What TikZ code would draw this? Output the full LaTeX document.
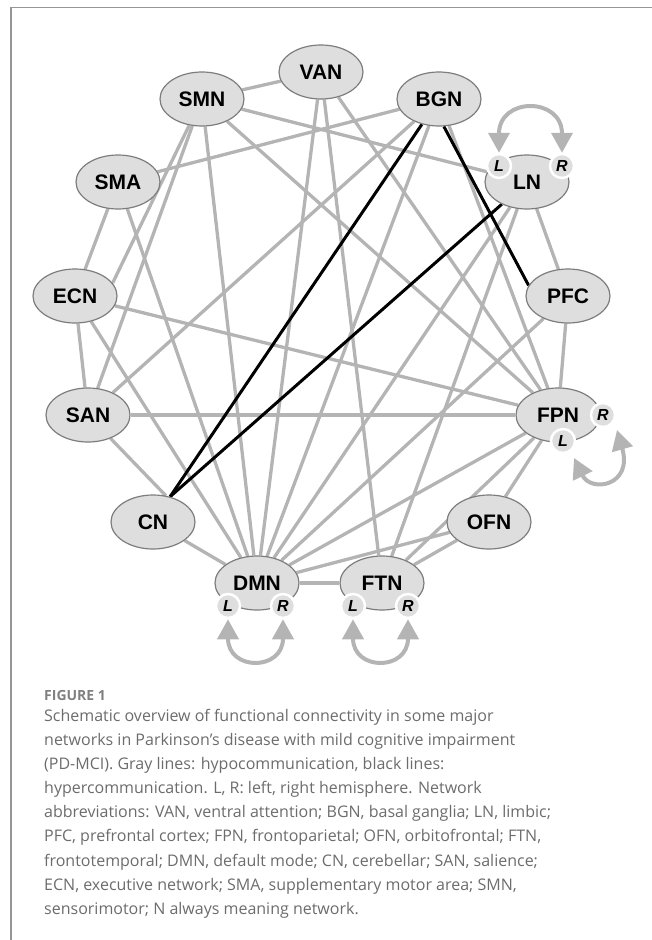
\documentclass[tikz,border=0pt]{standalone}
\usepackage{fontspec}
\setmainfont{Liberation Sans}
\newfontfamily\capfont{Open Sans}
\usetikzlibrary{shapes.geometric,arrows.meta}
\pgfdeclarelayer{bg}
\pgfsetlayers{bg,main}
\definecolor{edgegray}{RGB}{180,180,180}
\definecolor{nodefill}{RGB}{222,222,222}
\definecolor{nodeline}{RGB}{125,125,125}
\definecolor{capgray}{RGB}{108,108,108}
\definecolor{figgray}{RGB}{128,128,128}
\definecolor{framegray}{RGB}{150,150,150}
\tikzset{
  net/.style={ellipse, draw=nodeline, line width=1.2pt, fill=nodefill,
    minimum width=84pt, minimum height=54pt, inner sep=0pt,
    font=\fontsize{21}{21}\selectfont\bfseries},
  hemi/.style={circle, fill=nodefill, draw=white, line width=2.5pt,
    minimum size=24pt, inner sep=0pt,
    font=\fontsize{16}{16}\selectfont\bfseries\itshape},
  hypo/.style={draw=edgegray, line width=3.3pt},
  hyper/.style={draw=black, line width=3pt},
  loopar/.style={draw=edgegray, line width=4pt,
    {Triangle[width=21pt,length=20pt]}-{Triangle[width=21pt,length=20pt]}},
  capline/.style={anchor=base west, inner sep=0pt, text=capgray,
    font=\capfont\fontsize{16}{16}\selectfont},
}
\begin{document}
\begin{tikzpicture}[x=1pt,y=-1pt]
\useasboundingbox (0,0) rectangle (652,940);
% frame
\draw[framegray, line width=1.5pt] (652,7.5) -- (11,7.5) -- (11,940);

% network nodes
\node[net] (VAN) at (321,72) {VAN};
\node[net] (SMN) at (202,99) {SMN};
\node[net] (BGN) at (439,99) {BGN};
\node[net] (SMA) at (118,182) {SMA};
\node[net] (LN)  at (527,182) {LN};
\node[net] (ECN) at (75,296) {ECN};
\node[net] (PFC) at (568,296) {PFC};
\node[net] (SAN) at (88,415) {SAN};
\node[net] (FPN) at (558,415) {FPN};
\node[net] (CN)  at (153,522) {CN};
\node[net] (OFN) at (489,522) {OFN};
\node[net] (DMN) at (257,583) {DMN};
\node[net] (FTN) at (382,583) {FTN};

% hemisphere markers
\node[hemi] (LNL)  at (499,166) {L};
\node[hemi] (LNR)  at (562,166) {R};
\node[hemi] (FPNR) at (603,415) {R};
\node[hemi] (FPNL) at (563,441) {L};
\node[hemi] (DMNL) at (228,606) {L};
\node[hemi] (DMNR) at (283,606) {R};
\node[hemi] (FTNL) at (353,606) {L};
\node[hemi] (FTNR) at (408,606) {R};

% loop end points
\coordinate (FPNLa) at (574,458);
\coordinate (FPNRa) at (617,430);

\begin{pgfonlayer}{bg}
% hypocommunication
\draw[hypo] (SMN) -- (VAN);
\draw[hypo] (SMN) -- (LN);
\draw[hypo] (SMN) -- (FPN);
\draw[hypo] (SMN) -- (ECN.19);
\draw[hypo] (SMN) -- (SAN);
\draw[hypo] (SMN) -- (DMN);
\draw[hypo] (VAN) -- (DMN);
\draw[hypo] (VAN) -- (FTN);
\draw[hypo] (VAN) -- (FPN);
\draw[hypo] (BGN) -- (SMA);
\draw[hypo] (BGN) -- (SAN);
\draw[hypo] (BGN) -- (DMN);
\draw[hypo] (BGN) -- (FPN);
\draw[hypo] (LN) -- (PFC);
\draw[hypo] (LN) -- (DMN);
\draw[hypo] (LN) -- (FTN);
\draw[hypo] (PFC) -- (FPN);
\draw[hypo] (PFC) -- (DMN);
\draw[hypo] (SMA) -- (ECN);
\draw[hypo] (SMA) -- (DMN);
\draw[hypo] (ECN) -- (SAN);
\draw[hypo] (ECN) -- (FPN);
\draw[hypo] (ECN) -- (DMN);
\draw[hypo] (SAN) -- (FPN);
\draw[hypo] (SAN) -- (CN.64);
\draw[hypo] (CN) -- (DMN);
\draw[hypo] (DMN) -- (FTN);
\draw[hypo] (DMN) -- (FPN);
\draw[hypo] (DMN) -- (OFN);
\draw[hypo] (FTN) -- (FPN);
\draw[hypo] (FTN) -- (OFN);
\draw[hypo] (FPN) -- (OFN);
% hypercommunication
\draw[hyper] (BGN) -- (CN.56);
\draw[hyper] (LN) -- (CN.56);
\draw[hyper] (BGN.-80) -- (PFC.165);
\end{pgfonlayer}

% interhemispheric loops
\draw[loopar] (LNL.north) .. controls +(0,-56) and +(0,-56) .. (LNR.north);
\draw[loopar] (FPNLa) .. controls (591,493) and (633,486) .. (FPNRa);
\draw[loopar] (DMNL.south) .. controls +(0,52) and +(0,52) .. (DMNR.south);
\draw[loopar] (FTNL.south) .. controls +(0,52) and +(0,52) .. (FTNR.south);

% caption
\node[anchor=base west, inner sep=0pt, text=figgray,
  font=\capfont\fontsize{14}{14}\selectfont\bfseries] (fig) at (44,700) {FIGURE 1};
\node[capline] (c1) at (44,721.2) {Schematic overview of functional connectivity in some major};
\node[capline] (c2) at (44,745.3) {networks in Parkinson’s disease with mild cognitive impairment};
\node[capline] (c3) at (44,769.5) {(PD-MCI). Gray lines: hypocommunication, black lines:};
\node[capline] (c4) at (44,793.6) {hypercommunication. L, R: left, right hemisphere. Network};
\node[capline] (c5) at (44,817.8) {abbreviations: VAN, ventral attention; BGN, basal ganglia; LN, limbic;};
\node[capline] (c6) at (44,841.9) {PFC, prefrontal cortex; FPN, frontoparietal; OFN, orbitofrontal; FTN,};
\node[capline] (c7) at (44,866.1) {frontotemporal; DMN, default mode; CN, cerebellar; SAN, salience;};
\node[capline] (c8) at (44,890.2) {ECN, executive network; SMA, supplementary motor area; SMN,};
\node[capline] (c9) at (44,914.4) {sensorimotor; N always meaning network.};
\end{tikzpicture}
\end{document}
